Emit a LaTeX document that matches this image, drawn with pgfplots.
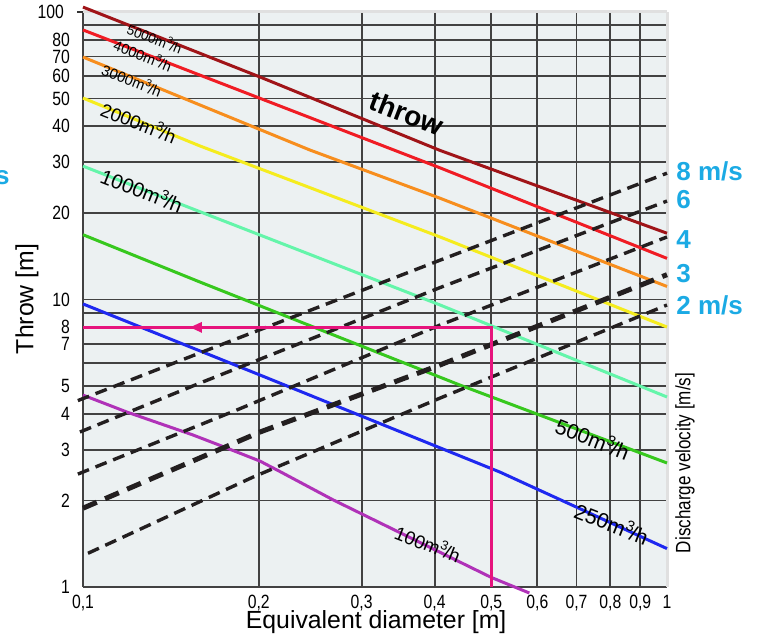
\documentclass[border=0pt]{standalone}
\usepackage{fontspec}
\setmainfont{Liberation Sans}
\newfontfamily\condfont[FakeStretch=0.82]{Liberation Sans}
\usepackage{pgfplots}
\pgfplotsset{compat=1.18}
\usetikzlibrary{arrows.meta}

\definecolor{bgc}{RGB}{236,241,242}
\definecolor{c5000}{RGB}{160,20,24}
\definecolor{c4000}{RGB}{240,28,36}
\definecolor{c3000}{RGB}{247,142,30}
\definecolor{c2000}{RGB}{245,236,30}
\definecolor{c1000}{RGB}{100,245,170}
\definecolor{c500}{RGB}{55,200,30}
\definecolor{c250}{RGB}{30,40,240}
\definecolor{c100}{RGB}{176,50,184}
\definecolor{pinkc}{RGB}{230,20,125}
\definecolor{cyanc}{RGB}{27,170,228}
\definecolor{dashc}{RGB}{35,31,32}

\newcommand{\mh}{m\textsuperscript{3}\kern-0.12em/h}
\newcommand{\fs}[1]{\fontsize{#1}{#1}\selectfont}

\begin{document}
\begin{tikzpicture}
\path[use as bounding box] (-41.5pt,-24.5pt) rectangle (338pt,293.5pt);
\begin{axis}[
  at={(0,0)}, anchor=south west,
  scale only axis, width=292pt, height=287.5pt,
  xmode=log, ymode=log,
  xmin=0.1, xmax=1, ymin=1, ymax=100,
  clip=false,
  axis background/.style={fill=bgc},
  axis line style={draw=none},
  xtick pos=bottom, ytick pos=left,
  xtick={0.1,0.2,0.3,0.4,0.5,0.6,0.7,0.8,0.9},
  xticklabels={{0,1},{0,2},{0,3},{0,4},{0,5},{0,6},{0,7},{0,8},{0,9}},
  extra x ticks={1}, extra x tick labels={1},
  ytick={1,2,3,4,5,6,7,8,9,10,20,30,40,50,60,70,80,90},
  yticklabels={1,2,3,4,5,,7,8,,10,20,30,40,50,60,70,80,},
  extra y ticks={100}, extra y tick labels={100},
  grid=major,
  major grid style={black!74, line width=0.95pt},
  major tick length=0pt,
  extra tick style={major grid style={black!12, line width=1.5pt},
    major tick length=3pt, tick align=outside,
    tick style={black!80, line width=0.8pt}},
  extra x tick style={major tick length=0pt},
  tick label style={font=\condfont\fs{9.6}},
  yticklabel style={xshift=-3pt},
  xticklabel style={yshift=-0.5pt},
]
% air flow rate lines
\addplot[c5000, line width=1.5pt] coordinates {(0.1,104) (0.201,59.4) (0.4087,33.0) (0.5757,25.6) (1,17.0)};
\addplot[c4000, line width=1.5pt] coordinates {(0.1,86.6) (0.4087,28.7) (1,13.9)};
\addplot[c3000, line width=1.5pt] coordinates {(0.1,69.7) (0.2447,33.1) (0.4087,22.5) (1,11.1)};
\addplot[c2000, line width=1.5pt] coordinates {(0.1,50.2) (0.1586,34.2) (0.4087,16.5) (1,8.02)};
\addplot[c1000, line width=1.5pt] coordinates {(0.1,29.1) (0.1586,20.2) (0.4087,9.57) (1,4.58)};
\addplot[c500, line width=1.5pt] coordinates {(0.1,16.8) (0.1586,11.5) (0.4419,5.04) (1,2.70)};
\addplot[c250, line width=1.5pt] coordinates {(0.1,9.65) (0.201,5.46) (0.5176,2.51) (1,1.36)};
\addplot[c100, line width=1.5pt] coordinates {(0.1,4.65) (0.1189,4.06) (0.1542,3.38) (0.1737,3.08) (0.201,2.74) (0.2175,2.52) (0.268,2.01) (0.5,1.08) (0.5812,0.953)};

% discharge velocity lines
\addplot[dashc, line width=1.7pt, dash pattern=on 6pt off 3.5pt] coordinates {(0.098,4.45) (0.1586,6.52) (0.4087,13.7) (1,27.5)};
\addplot[dashc, line width=1.7pt, dash pattern=on 6pt off 3.5pt] coordinates {(0.0988,3.46) (0.1586,5.12) (0.4087,11.0) (1,22.0)};
\addplot[dashc, line width=1.7pt, dash pattern=on 6pt off 3.5pt] coordinates {(0.098,2.47) (0.1836,4.13) (0.4087,8.15) (1,16.5)};
\addplot[dashc, line width=2.5pt, dash pattern=on 7.5pt off 4.5pt] coordinates {(0.1,1.88) (0.201,3.46) (0.4087,5.92) (1,12.2)};
\addplot[dashc, line width=1.7pt, dash pattern=on 6pt off 3.5pt] coordinates {(0.102,1.31) (0.1954,2.41) (0.4087,4.54) (1,9.57)};

% reading example
\addplot[pinkc, line width=1.4pt] coordinates {(0.5,1) (0.5,8) (0.1,8)};
\addplot[pinkc, line width=1.4pt, -{Triangle[length=6pt,width=5pt]}] coordinates {(0.2,8) (0.1524,8)};

% line labels
\node[rotate=-21.5, font=\fs{6.8}] at (axis cs:0.1328,81.2) {5000\mh};
\node[rotate=-21.5, font=\fs{7.2}] at (axis cs:0.1267,70.9) {4000\mh};
\node[rotate=-21.5, font=\fs{7.4}] at (axis cs:0.1213,58.0) {3000\mh};
\node[rotate=-21.5, font=\fs{9.4}] at (axis cs:0.1247,41.4) {2000\mh};
\node[rotate=-21.5, font=\fs{10.2}] at (axis cs:0.1262,24.0) {1000\mh};
\node[rotate=-21.5, font=\fs{10.6}] at (axis cs:0.747,3.30) {500\mh};
\node[rotate=-21.5, font=\fs{10.6}] at (axis cs:0.805,1.67) {250\mh};
\node[rotate=-21.5, font=\fs{9.4}] at (axis cs:0.390,1.42) {100\mh};
\node[rotate=-21, font=\bfseries\fs{14}] at (axis cs:0.359,44.5) {throw};

% velocity labels
\begin{scope}[every node/.style={anchor=west, text=cyanc, font=\bfseries\fs{13}, inner sep=0pt}]
\node at ([xshift=4.5pt]axis cs:1,27.8) {8 m/s};
\node at ([xshift=4.5pt]axis cs:1,22.2) {6};
\node at ([xshift=4.5pt]axis cs:1,16.2) {4};
\node at ([xshift=4.5pt]axis cs:1,12.3) {3};
\node at ([xshift=4.5pt]axis cs:1,9.57) {2 m/s};
\end{scope}
\node[anchor=east, text=cyanc, font=\bfseries\fs{13}, inner sep=0pt] at (rel axis cs:-0.125,0.7165) {m/s};

% axis titles
\node[rotate=90, font=\fs{12.4}] at (rel axis cs:-0.0959,0.501) {Throw [m]};
\node[font=\fs{12.4}] at (rel axis cs:0.502,-0.0609) {Equivalent diameter [m]};
\node[rotate=90, font=\condfont\fs{10.4}] at (rel axis cs:1.031,0.2157) {Discharge velocity [m/s]};
\end{axis}
\end{tikzpicture}
\end{document}
